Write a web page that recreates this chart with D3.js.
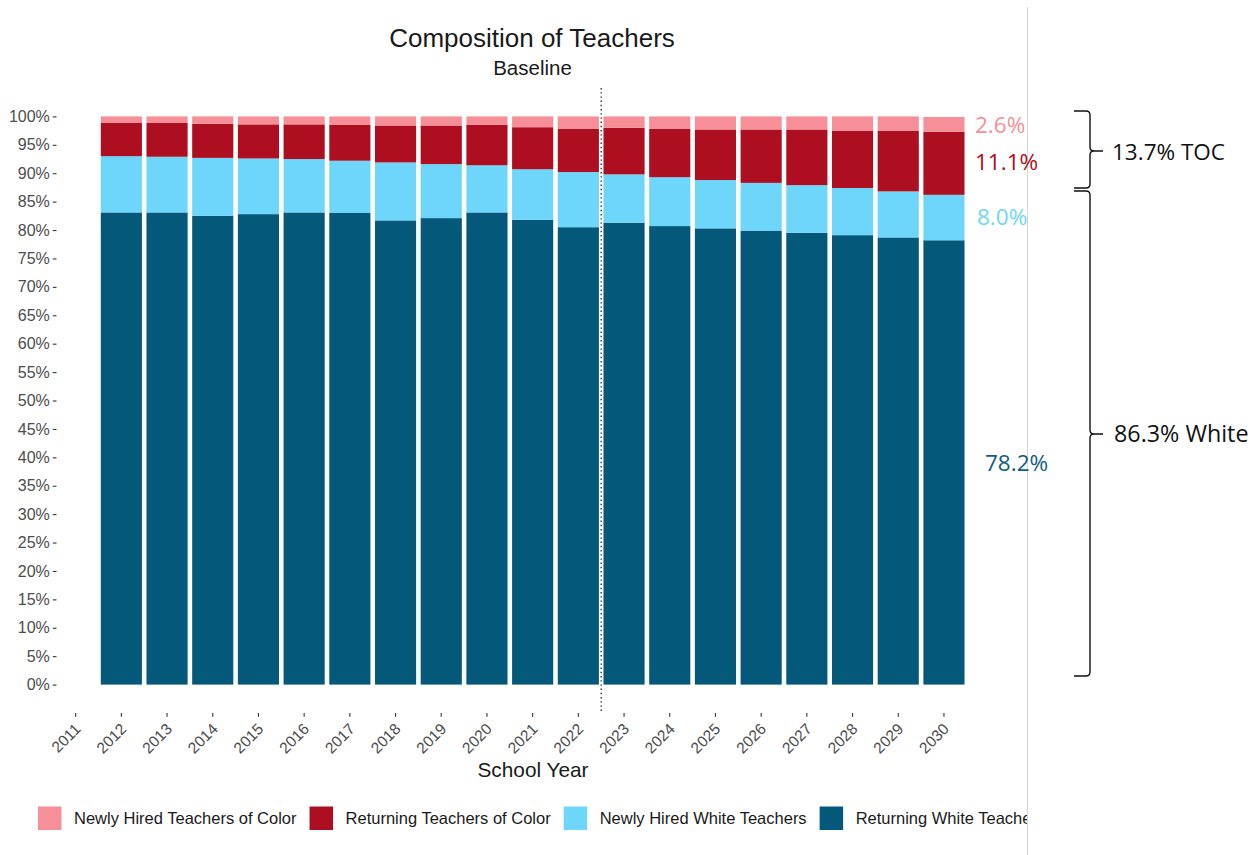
<!DOCTYPE html>
<html>
<head>
<meta charset="utf-8">
<script src="https://cdn.jsdelivr.net/npm/d3@7/dist/d3.min.js"></script>
<style>
  html, body { margin: 0; padding: 0; background: #fff; }
  svg { display: block; }
</style>
</head>
<body>
<svg id="chart" width="1257" height="855"></svg>
<script>
// School years on the axis (2011 has no data) and the years with bars
const axisYears = ["2011","2012","2013","2014","2015","2016","2017","2018","2019","2020",
                   "2021","2022","2023","2024","2025","2026","2027","2028","2029","2030"];
const barYears = ["2012","2013","2014","2015","2016","2017","2018","2019","2020",
                  "2021","2022","2023","2024","2025","2026","2027","2028","2029","2030"];

// Share of all teachers (%) by group
const returningWhite  = [83.1,83.1,82.5,82.8,83.1,83.0,81.7,82.1,83.1,81.8,80.5,81.3,80.7,80.3,79.9,79.5,79.1,78.7,78.2];
const newlyHiredWhite = [9.9,9.8,10.2,9.8,9.4,9.2,10.2,9.5,8.3,8.9,9.7,8.5,8.6,8.5,8.4,8.4,8.3,8.1,8.0];
const returningTOC    = [5.9,6.0,6.0,6.0,6.1,6.3,6.5,6.8,7.1,7.4,7.6,8.2,8.5,8.9,9.4,9.8,10.1,10.7,11.1];
const newlyHiredTOC   = [1.1,1.1,1.3,1.4,1.4,1.5,1.6,1.6,1.5,1.9,2.2,2.0,2.2,2.3,2.3,2.3,2.5,2.5,2.6];

const yTicks = [0,5,10,15,20,25,30,35,40,45,50,55,60,65,70,75,80,85,90,95,100];

const legendLabels = ["Newly Hired Teachers of Color","Returning Teachers of Color",
                      "Newly Hired White Teachers","Returning White Teachers"];

// Final-year callouts and group totals
const finalLabels = ["2.6%","11.1%","8.0%","78.2%"];
const groupLabels = ["13.7% TOC","86.3% White"];

const colors = {
  newlyHiredTOC: "#f78f98",
  returningTOC: "#ad0e20",
  newlyHiredWhite: "#6fd6fb",
  returningWhite: "#045879"
};

const rows = barYears.map((yr, i) => ({
  year: yr,
  returningWhite: returningWhite[i],
  newlyHiredWhite: newlyHiredWhite[i],
  returningTOC: returningTOC[i],
  newlyHiredTOC: newlyHiredTOC[i]
}));

const keys = ["returningWhite","newlyHiredWhite","returningTOC","newlyHiredTOC"];
const stacked = d3.stack().keys(keys)(rows);

const svg = d3.select("#chart");
const axisFont = "'Liberation Sans', Arial, sans-serif";
const calloutFont = "'Open Sans', 'Noto Sans', sans-serif";

// Panel geometry
const panelTop = 88, panelBottom = 713;
const x = d3.scaleBand().domain(axisYears).range([52.8, 966.8]).paddingInner(0.1).paddingOuter(0.05);
const y = d3.scaleLinear().domain([-5, 105]).range([panelBottom, panelTop]);

// Title and subtitle
svg.append("text").attr("x", 532).attr("y", 46.5).attr("text-anchor", "middle")
  .attr("font-family", axisFont).attr("font-size", 26).attr("fill", "#1a1a1a")
  .text("Composition of Teachers");
svg.append("text").attr("x", 532.5).attr("y", 75).attr("text-anchor", "middle")
  .attr("font-family", axisFont).attr("font-size", 20.5).attr("fill", "#1a1a1a")
  .text("Baseline");

// Stacked bars
svg.append("g").selectAll("g").data(stacked).join("g")
  .attr("fill", d => colors[d.key])
  .selectAll("rect").data(d => d).join("rect")
  .attr("x", d => x(d.data.year))
  .attr("width", x.bandwidth())
  .attr("y", d => y(d[1]))
  .attr("height", d => y(d[0]) - y(d[1]));

// Divider between observed and projected years
const splitX = (x("2022") + x("2023")) / 2 + x.bandwidth() / 2;
svg.append("line").attr("x1", splitX).attr("x2", splitX)
  .attr("y1", panelTop).attr("y2", panelBottom)
  .attr("stroke", "#333").attr("stroke-width", 1.4).attr("stroke-dasharray", "1.4,2.8");

// Y axis
const yAxis = svg.append("g").attr("transform", "translate(56.5,0)")
  .call(d3.axisLeft(y).tickValues(yTicks).tickSize(3.7).tickPadding(3).tickFormat(d => d + "%"));
yAxis.select(".domain").remove();
yAxis.selectAll("line").attr("stroke", "#333").attr("stroke-width", 1.1);
yAxis.selectAll("text").attr("font-family", axisFont).attr("font-size", 16).attr("fill", "#4d4d4d");

// X axis
const xAxis = svg.append("g").attr("transform", `translate(0,${panelBottom})`)
  .call(d3.axisBottom(x).tickSize(3.7).tickFormat(""));
xAxis.select(".domain").remove();
xAxis.selectAll("line").attr("stroke", "#333").attr("stroke-width", 1.1);
svg.append("g").selectAll("text").data(axisYears).join("text")
  .attr("transform", d => `translate(${x(d) + x.bandwidth() / 2 + 6},${730}) rotate(-45)`)
  .attr("text-anchor", "end")
  .attr("font-family", axisFont).attr("font-size", 15.5).attr("fill", "#4d4d4d")
  .text(d => d);

svg.append("text").attr("x", 533).attr("y", 777).attr("text-anchor", "middle")
  .attr("font-family", axisFont).attr("font-size", 20.8).attr("fill", "#1a1a1a")
  .text("School Year");

// Legend (clipped at the frame edge)
svg.append("defs").append("clipPath").attr("id", "frameClip")
  .append("rect").attr("x", 0).attr("y", 0).attr("width", 1027).attr("height", 855);
const legendKeys = ["newlyHiredTOC","returningTOC","newlyHiredWhite","returningWhite"];
const legend = svg.append("g").attr("clip-path", "url(#frameClip)");
let lx = 38;
legendKeys.forEach((k, i) => {
  legend.append("rect").attr("x", lx).attr("y", 806.5).attr("width", 23.5).attr("height", 23.5)
    .attr("fill", colors[k]);
  const t = legend.append("text").attr("x", lx + 36).attr("y", 824)
    .attr("font-family", axisFont).attr("font-size", 16.5).attr("fill", "#1a1a1a")
    .text(legendLabels[i]);
  lx += 36 + t.node().getComputedTextLength() + 13;
});

// Frame edge
svg.append("line").attr("x1", 1027.5).attr("x2", 1027.5).attr("y1", 7).attr("y2", 855)
  .attr("stroke", "#d6d6d6").attr("stroke-width", 1);

// Final-year value callouts
const callouts = [
  { text: finalLabels[0], color: colors.newlyHiredTOC, x: 975, y: 133 },
  { text: finalLabels[1], color: colors.returningTOC, x: 975, y: 170 },
  { text: finalLabels[2], color: colors.newlyHiredWhite, x: 977, y: 225 },
  { text: finalLabels[3], color: "#0f5f7f", x: 985, y: 471 }
];
svg.append("g").selectAll("text").data(callouts).join("text")
  .attr("x", d => d.x).attr("y", d => d.y)
  .attr("font-family", calloutFont).attr("font-size", 22.5).attr("fill", d => d.color)
  .text(d => d.text);

// Curly braces grouping teachers of color and white teachers
function bracePath(bx, y0, y1, ym, arm, tip) {
  const r = 4;
  const p = d3.path();
  p.moveTo(bx - arm, y0);
  p.lineTo(bx - r, y0);
  p.quadraticCurveTo(bx, y0, bx, y0 + r);
  p.lineTo(bx, ym - r);
  p.quadraticCurveTo(bx, ym, bx + r, ym);
  p.lineTo(bx + tip, ym);
  p.moveTo(bx + r, ym);
  p.quadraticCurveTo(bx, ym, bx, ym + r);
  p.lineTo(bx, y1 - r);
  p.quadraticCurveTo(bx, y1, bx - r, y1);
  p.lineTo(bx - arm, y1);
  return p.toString();
}
const braces = [
  { y0: 111, y1: 188, ym: 151, label: groupLabels[0], ty: 160 },
  { y0: 191, y1: 676, ym: 434, label: groupLabels[1], ty: 442 }
];
svg.append("g").selectAll("path").data(braces).join("path")
  .attr("d", d => bracePath(1090, d.y0, d.y1, d.ym, 16, 13))
  .attr("fill", "none").attr("stroke", "#111").attr("stroke-width", 1.4);
svg.append("g").selectAll("text").data(braces).join("text")
  .attr("x", (d, i) => i === 0 ? 1112 : 1114).attr("y", d => d.ty)
  .attr("font-family", calloutFont).attr("font-size", (d, i) => i === 0 ? 22.5 : 23.3).attr("fill", "#111")
  .text(d => d.label);
</script>
</body>
</html>
